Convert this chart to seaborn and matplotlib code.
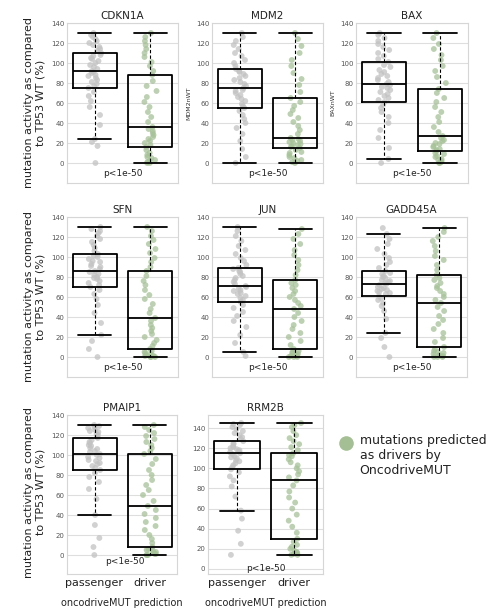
import numpy as np
import pandas as pd
import matplotlib
matplotlib.use("Agg")
import matplotlib.pyplot as plt
from matplotlib.lines import Line2D
import seaborn as sns

# ---- data: distribution readings (2.5% quantile steps) per gene / group ----
genes = ["CDKN1A", "MDM2", "BAX", "SFN", "JUN", "GADD45A", "PMAIP1", "RRM2B"]
categories = ["passenger", "driver"]

CDKN1A_passenger = [0, 17, 21, 24, 38, 48, 56, 62, 67, 71, 75, 77, 79, 81, 83, 85, 87, 88, 90, 91, 92,
                    94, 96, 98, 100, 102, 104, 105, 107, 108, 110, 112, 114, 116, 118, 120, 122, 124, 126, 128, 130]
CDKN1A_driver = [0, 0, 1, 2, 3, 5, 6, 8, 10, 13, 16, 18, 20, 22, 24, 26, 28, 30, 32, 34, 36,
                 41, 46, 51, 56, 61, 66, 72, 77, 82, 88, 92, 97, 101, 106, 110, 114, 118, 122, 126, 130]
MDM2_passenger = [0, 6, 14, 22, 29, 35, 40, 44, 48, 52, 55, 57, 59, 62, 64, 66, 68, 70, 72, 73, 75,
                  77, 79, 81, 83, 85, 87, 89, 91, 92, 94, 97, 100, 103, 107, 110, 114, 118, 122, 126, 130]
MDM2_driver = [0, 1, 2, 3, 5, 6, 8, 10, 11, 13, 15, 16, 17, 18, 19, 20, 21, 22, 23, 24, 25,
               29, 33, 37, 41, 45, 49, 53, 57, 61, 65, 71, 78, 84, 90, 97, 103, 110, 117, 124, 130]
BAX_passenger = [0, 4, 15, 25, 33, 40, 46, 51, 55, 58, 61, 63, 65, 67, 69, 71, 73, 75, 76, 78, 79,
                 81, 83, 85, 87, 89, 91, 93, 96, 98, 101, 104, 107, 110, 113, 116, 119, 122, 125, 128, 130]
BAX_driver = [0, 0, 1, 2, 3, 4, 6, 7, 9, 10, 12, 13, 14, 16, 17, 19, 20, 22, 23, 25, 27,
              31, 36, 41, 46, 51, 56, 61, 65, 70, 74, 80, 86, 92, 97, 103, 108, 114, 119, 125, 130]
SFN_passenger = [0, 8, 16, 22, 34, 44, 52, 58, 63, 67, 70, 72, 74, 76, 78, 79, 80, 82, 83, 85, 86,
                 88, 90, 91, 93, 95, 96, 98, 100, 101, 103, 106, 109, 112, 115, 118, 121, 124, 126, 128, 130]
SFN_driver = [0, 0, 0, 1, 1, 2, 3, 4, 5, 6, 8, 11, 14, 17, 20, 23, 26, 29, 32, 36, 39,
              44, 48, 53, 58, 62, 67, 72, 76, 81, 86, 90, 95, 99, 104, 108, 113, 117, 121, 126, 130]
JUN_passenger = [1, 5, 14, 22, 30, 36, 41, 45, 49, 52, 55, 57, 59, 61, 63, 64, 66, 67, 68, 70, 71,
                 73, 75, 77, 79, 81, 83, 85, 86, 88, 89, 92, 96, 99, 103, 107, 111, 116, 121, 126, 130]
JUN_driver = [0, 0, 0, 1, 1, 2, 3, 4, 5, 6, 8, 12, 16, 20, 24, 28, 32, 36, 40, 44, 48,
              51, 54, 57, 60, 63, 66, 69, 72, 74, 77, 82, 87, 92, 97, 102, 107, 113, 118, 123, 128]
GADD45A_passenger = [0, 10, 19, 24, 38, 46, 51, 54, 57, 59, 61, 63, 64, 65, 66, 67, 68, 69, 70, 72, 73,
                     74, 75, 76, 77, 79, 80, 81, 83, 84, 86, 89, 92, 95, 99, 103, 108, 113, 118, 123, 129]
GADD45A_driver = [0, 0, 0, 1, 2, 3, 4, 5, 6, 8, 10, 15, 19, 24, 28, 33, 37, 41, 46, 50, 54,
                  57, 60, 63, 66, 69, 71, 74, 77, 79, 82, 87, 92, 97, 101, 106, 111, 116, 120, 125, 129]
PMAIP1_passenger = [0, 8, 17, 30, 40, 56, 66, 73, 78, 82, 85, 87, 89, 91, 92, 94, 95, 97, 98, 100, 101,
                    103, 104, 106, 107, 109, 110, 112, 113, 115, 117, 118, 120, 121, 123, 124, 125, 127, 128, 129, 130]
PMAIP1_driver = [0, 0, 0, 1, 1, 2, 3, 4, 5, 6, 8, 12, 16, 20, 25, 29, 33, 37, 41, 45, 49,
                 54, 60, 65, 70, 75, 80, 85, 91, 96, 101, 104, 107, 110, 113, 116, 119, 122, 125, 128, 130]
RRM2B_passenger = [14, 25, 38, 50, 58, 72, 82, 88, 92, 96, 99, 101, 103, 105, 107, 108, 110, 111, 112, 114, 115,
                   116, 117, 118, 119, 120, 121, 122, 124, 125, 127, 129, 131, 133, 135, 137, 139, 141, 143, 144, 145]
RRM2B_driver = [14, 14, 15, 16, 17, 18, 20, 22, 24, 27, 30, 36, 42, 48, 54, 60, 66, 71, 77, 83, 88,
                91, 94, 97, 100, 103, 106, 109, 112, 113, 115, 118, 121, 124, 127, 130, 133, 137, 141, 143, 145]

ylabels_small = {"MDM2": "MDM2nWT", "BAX": "BAXnWT"}
pvalue_label = "p<1e-50"
big_ylabel = "mutation activity as compared\nto TP53 WT (%)"
xlabel = "oncodriveMUT prediction"
legend_label = "mutations predicted\nas drivers by\nOncodriveMUT"
yticks = [0, 20, 40, 60, 80, 100, 120, 140]

data = {
    "CDKN1A": (CDKN1A_passenger, CDKN1A_driver),
    "MDM2": (MDM2_passenger, MDM2_driver),
    "BAX": (BAX_passenger, BAX_driver),
    "SFN": (SFN_passenger, SFN_driver),
    "JUN": (JUN_passenger, JUN_driver),
    "GADD45A": (GADD45A_passenger, GADD45A_driver),
    "PMAIP1": (PMAIP1_passenger, PMAIP1_driver),
    "RRM2B": (RRM2B_passenger, RRM2B_driver),
}

# ---- style ----
sns.set_style("whitegrid")
plt.rcParams["font.family"] = ["DejaVu Sans"]
GRID = "#dedede"
SPINE = "#d6d6d6"
colors = {"passenger": "#c2c2c2", "driver": "#a6c297"}

W, H = 493, 609
fig = plt.figure(figsize=(W / 100, H / 100), dpi=100)

def rect(l, t, r, b):
    return [l / W, 1 - b / H, (r - l) / W, (b - t) / H]

rects = {
    "CDKN1A": rect(67, 23, 178, 183),
    "MDM2": rect(212, 23, 323, 183),
    "BAX": rect(356, 23, 468, 183),
    "SFN": rect(67, 217, 178, 377),
    "JUN": rect(212, 217, 323, 377),
    "GADD45A": rect(356, 217, 467, 377),
    "PMAIP1": rect(67, 415, 177, 574),
    "RRM2B": rect(208, 415, 323, 574),
}
ylims = {g: (-20, 140) for g in genes}
ylims["PMAIP1"] = (-19, 140)
ylims["RRM2B"] = (-5, 153)
ptext = {g: (0.5, -10) for g in genes}
ptext["PMAIP1"] = (0.56, -7)
ptext["RRM2B"] = (0.5, 0)

np.random.seed(3)
for g in genes:
    p, d = data[g]
    df = pd.DataFrame({"cat": ["passenger"] * len(p) + ["driver"] * len(d),
                       "val": list(p) + list(d)})
    ax = fig.add_axes(rects[g])
    sns.stripplot(data=df, x="cat", y="val", hue="cat", order=categories,
                  palette=colors, jitter=0.12, size=4.2, alpha=0.75,
                  linewidth=0, legend=False, ax=ax, zorder=1)
    sns.boxplot(data=df, x="cat", y="val", order=categories, fill=False,
                color="black", width=0.8, showfliers=False, linewidth=1.3,
                whiskerprops=dict(linestyle=(0, (3, 2)), linewidth=0.8),
                capprops=dict(linewidth=1.3), capwidths=0.6, ax=ax)
    ax.set_xlim(-0.5, 1.5)
    ax.set_ylim(*ylims[g])
    ax.set_yticks(yticks)
    ax.tick_params(axis="y", labelsize=5, colors="#555555", length=0, pad=2)
    ax.grid(axis="y", color=GRID, linewidth=0.8)
    ax.grid(axis="x", visible=False)
    for s in ax.spines.values():
        s.set_color(SPINE)
        s.set_linewidth(0.8)
    ax.set_title(g, fontsize=7.5, pad=3, color="#222222")
    ax.text(ptext[g][0], ptext[g][1], pvalue_label, ha="center", va="center",
            fontsize=6.5, color="#222222")
    if g in ylabels_small:
        ax.set_ylabel(ylabels_small[g], fontsize=4.5, labelpad=3, color="#333333")
    else:
        ax.set_ylabel("")
    if g in ("PMAIP1", "RRM2B"):
        ax.tick_params(axis="x", labelsize=8, colors="#222222", length=0, pad=3)
        ax.set_xlabel(xlabel, fontsize=7, labelpad=7, color="#222222")
    else:
        ax.set_xticklabels([])
        ax.tick_params(axis="x", length=0)
        ax.set_xlabel("")

for yc in (103, 297, 492):
    fig.text(35 / W, 1 - yc / H, big_ylabel, rotation=90, ha="center", va="center",
             multialignment="center", fontsize=8, color="#222222")

handle = Line2D([], [], marker="o", linestyle="", markersize=10.5,
                markerfacecolor="#a3bf93", markeredgecolor="none")
leg = fig.legend([handle], [legend_label], loc="upper left",
                 bbox_to_anchor=(332 / W, 1 - 428 / H), frameon=False,
                 fontsize=9, handletextpad=0.5, borderpad=0, handlelength=1.2,
                 labelcolor="#222222")
# align the legend symbol with the first text line
for h in leg.legend_handles:
    h.set_ydata(np.asarray(h.get_ydata(), dtype=float) + 9.5)

fig.savefig("out.png", dpi=100)
